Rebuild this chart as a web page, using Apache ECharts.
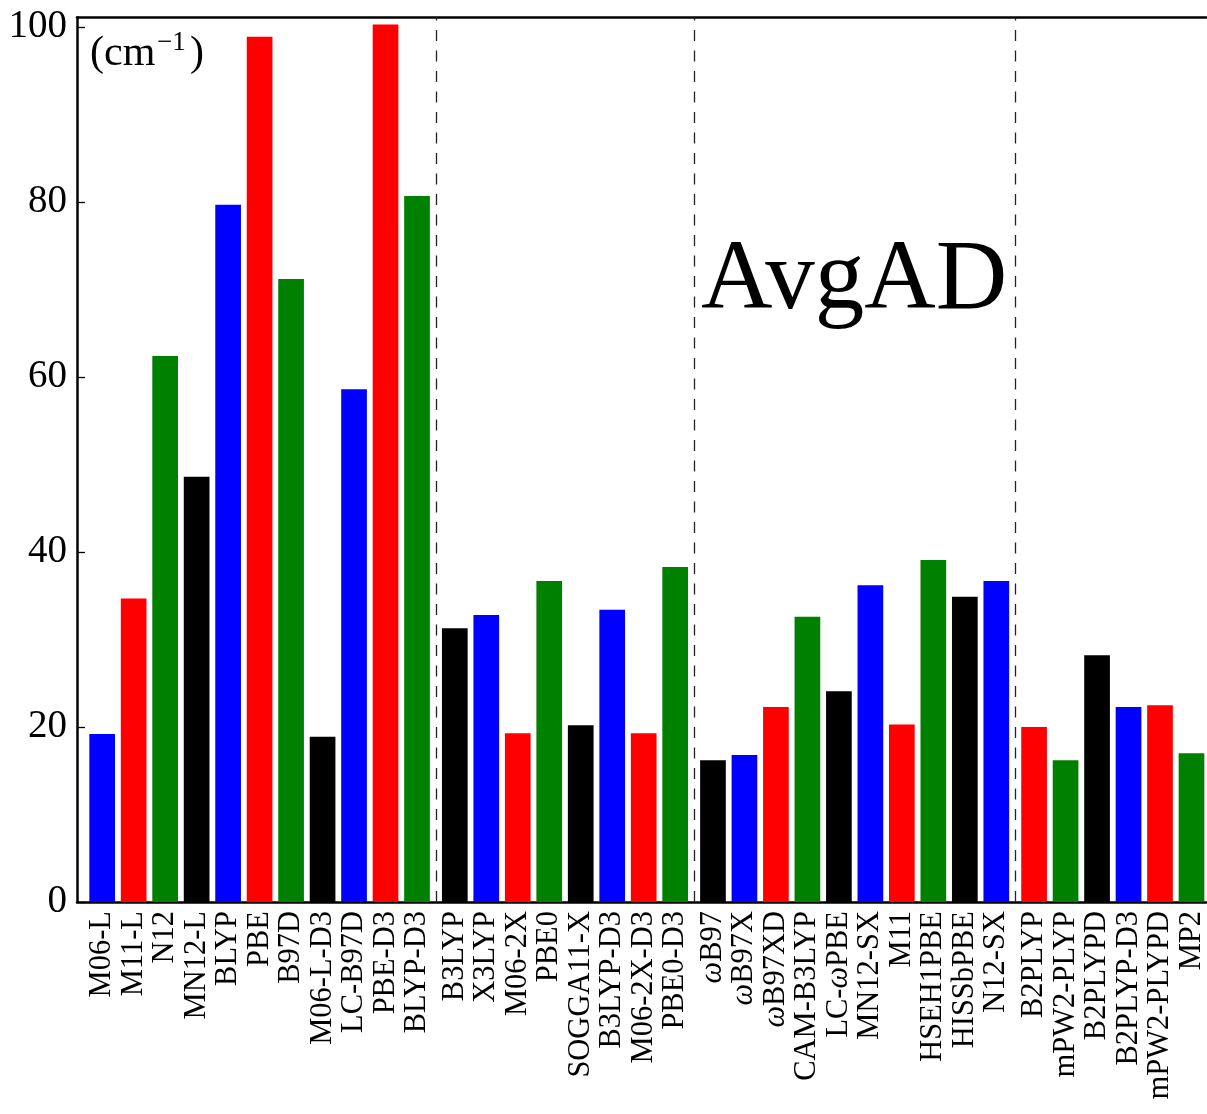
<!DOCTYPE html>
<html>
<head>
<meta charset="utf-8">
<script src="https://cdn.jsdelivr.net/npm/echarts@6/dist/echarts.min.js"></script>
<style>
html,body{margin:0;padding:0;background:#fff;}
#chart{width:1207px;height:1114px;}
</style>
</head>
<body>
<div id="chart"></div>
<script>
// ---- data ----
var methods = [
  'M06-L','M11-L','N12','MN12-L','BLYP','PBE','B97D','M06-L-D3','LC-B97D','PBE-D3','BLYP-D3',
  'B3LYP','X3LYP','M06-2X','PBE0','SOGGA11-X','B3LYP-D3','M06-2X-D3','PBE0-D3',
  'ωB97','ωB97X','ωB97XD','CAM-B3LYP','LC-ωPBE','MN12-SX','M11','HSEH1PBE','HISSbPBE','N12-SX',
  'B2PLYP','mPW2-PLYP','B2PLYPD','B2PLYP-D3','mPW2-PLYPD','MP2'
];
var avgAD = [
  19.2, 34.7, 62.4, 48.6, 79.7, 98.9, 71.2, 18.9, 58.6, 100.3, 80.7,
  31.3, 32.8, 19.3, 36.7, 20.2, 33.4, 19.3, 38.3,
  16.2, 16.8, 22.3, 32.6, 24.1, 36.2, 20.3, 39.1, 34.9, 36.7,
  20.0, 16.2, 28.2, 22.3, 22.5, 17.0
];
var groupSizes = [11, 8, 10, 6];
var yTicks = [0, 20, 40, 60, 80, 100];
var unitLabel = ['(cm', '−1', ')'];
var titleText = 'AvgAD';

// ---- derived ----
var palette = ['#0000ff', '#ff0000', '#008000', '#000000'];
var groupGap = 0.2;
var positions = [];
var groupBounds = [];
(function () {
  var idx = 0;
  for (var g = 0; g < groupSizes.length; g++) {
    var first = idx;
    for (var k = 0; k < groupSizes[g]; k++) {
      positions.push(idx + g * groupGap);
      idx++;
    }
    groupBounds.push([positions[first], positions[idx - 1]]);
  }
})();
var separators = [];
for (var g = 0; g < groupBounds.length - 1; g++) {
  separators.push((groupBounds[g][1] + groupBounds[g + 1][0]) / 2);
}
var barData = methods.map(function (m, i) {
  return { value: [positions[i], avgAD[i]], itemStyle: { color: palette[i % palette.length] } };
});
function nameAt(v) {
  for (var i = 0; i < positions.length; i++) {
    if (Math.abs(positions[i] - v) < 1e-6) return methods[i];
  }
  return '';
}
function fmtName(name) {
  return name.replace(/ω/g, '{i|ω}');
}

var SERIF = '"Liberation Serif", "DejaVu Serif", serif';
var chart = echarts.init(document.getElementById('chart'), null, { renderer: 'canvas' });

var option = {
  animation: false,
  backgroundColor: '#ffffff',
  grid: { left: 77, right: 0, top: 17.5, bottom: 212, containLabel: false },
  xAxis: [{
    type: 'value',
    min: -0.8,
    max: 35.07,
    position: 'bottom',
    splitLine: { show: false },
    axisLine: { show: true, onZero: false, lineStyle: { color: '#000', width: 2.5 } },
    axisTick: { show: false },
    axisLabel: {
      show: true,
      customValues: positions,
      rotate: 90,
      margin: 9,
      fontFamily: SERIF,
      fontSize: 30.5,
      color: '#000',
      formatter: function (v) { return fmtName(nameAt(v)); },
      rich: { i: { fontFamily: SERIF, fontSize: 30.5, fontStyle: 'italic', color: '#000' } }
    }
  }, {
    type: 'value',
    min: -0.8,
    max: 35.07,
    position: 'top',
    splitLine: { show: false },
    axisLine: { show: true, onZero: false, lineStyle: { color: '#000', width: 2.5 } },
    axisTick: { show: false },
    axisLabel: { show: false }
  }],
  yAxis: {
    type: 'value',
    min: 0,
    max: 101.1,
    interval: 20,
    splitLine: { show: false },
    axisLine: { show: true, onZero: false, lineStyle: { color: '#000', width: 2.5 } },
    axisTick: { show: true, inside: true, length: 8, customValues: yTicks, lineStyle: { color: '#000', width: 1.3 } },
    axisLabel: {
      customValues: yTicks,
      margin: 10,
      fontFamily: SERIF,
      fontSize: 39,
      color: '#000'
    }
  },
  series: [{
    type: 'bar',
    xAxisIndex: 0,
    barWidth: 25.7,
    data: barData,
    markLine: {
      silent: true,
      symbol: 'none',
      label: { show: false },
      lineStyle: { color: '#222', width: 1.3, type: [11, 9.5] },
      data: separators.map(function (s) { return { xAxis: s }; })
    }
  }],
  graphic: [
    { type: 'text', left: 90, top: 33, style: { text: unitLabel[0], font: '42px ' + SERIF, fill: '#000' } },
    { type: 'text', left: 157, top: 29, style: { text: unitLabel[1], font: '27px ' + SERIF, fill: '#000' } },
    { type: 'text', left: 190, top: 33, style: { text: unitLabel[2], font: '42px ' + SERIF, fill: '#000' } },
    { type: 'text', left: 701, top: 232, style: { text: titleText, font: '99px ' + SERIF, fill: '#000' } }
  ]
};
chart.setOption(option);
</script>
</body>
</html>
